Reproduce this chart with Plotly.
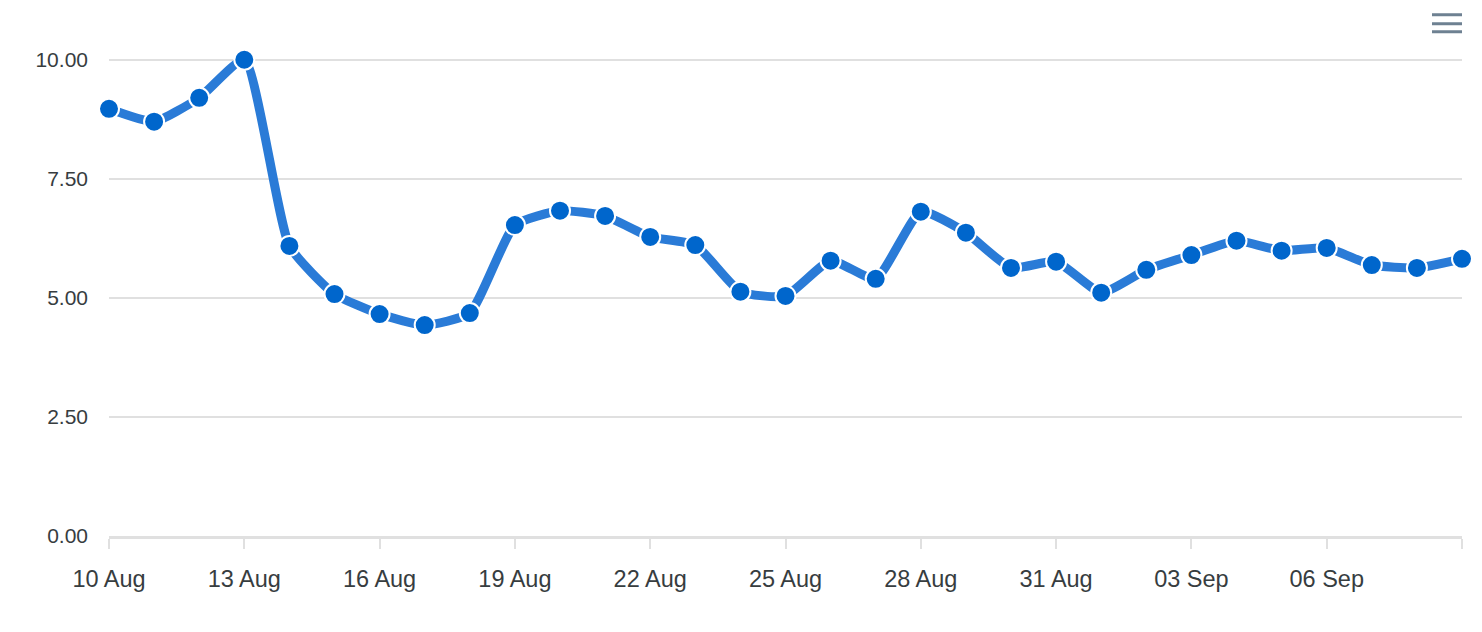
import plotly.graph_objects as go

# daily values, 10 Aug .. 09 Sep
dates = [
    "2023-08-10", "2023-08-11", "2023-08-12", "2023-08-13", "2023-08-14",
    "2023-08-15", "2023-08-16", "2023-08-17", "2023-08-18", "2023-08-19",
    "2023-08-20", "2023-08-21", "2023-08-22", "2023-08-23", "2023-08-24",
    "2023-08-25", "2023-08-26", "2023-08-27", "2023-08-28", "2023-08-29",
    "2023-08-30", "2023-08-31", "2023-09-01", "2023-09-02", "2023-09-03",
    "2023-09-04", "2023-09-05", "2023-09-06", "2023-09-07", "2023-09-08",
    "2023-09-09",
]
values = [
    8.97, 8.70, 9.20, 10.00, 6.09, 5.08, 4.66, 4.43, 4.68, 6.53,
    6.83, 6.72, 6.28, 6.11, 5.13, 5.04, 5.78, 5.40, 6.81, 6.37,
    5.63, 5.76, 5.11, 5.59, 5.90, 6.20, 5.99, 6.05, 5.69, 5.63,
    5.82,
]
x_ticks = dates[::3]
y_ticks = [0, 2.5, 5, 7.5, 10]

fig = go.Figure()
fig.add_trace(go.Scatter(
    x=dates,
    y=values,
    mode="lines+markers",
    line=dict(color="#2a7bd7", width=9, shape="spline", smoothing=0.5),
    marker=dict(color="#0066cc", size=20, line=dict(color="white", width=2)),
    cliponaxis=False,
    hoverinfo="x+y",
))

# page has an 8px body margin, so the figure is a bit smaller than the window
# y range goes a little past 10 so plotly still draws the 10.00 gridline
fig.update_layout(
    width=1466,
    height=616,
    margin=dict(l=101, r=12, t=47.24, b=88),
    paper_bgcolor="white",
    plot_bgcolor="white",
    showlegend=False,
    font=dict(family="Liberation Sans, Arial, sans-serif", color="#373d3f"),
    xaxis=dict(
        type="date",
        range=[dates[0], dates[-1]],
        tickvals=x_ticks,
        tickformat="%d %b",
        tickfont=dict(size=23.5),
        showgrid=False,
        showline=True,
        linecolor="#e0e0e0",
        linewidth=3,
        ticks="outside",
        ticklen=10,
        tickwidth=1.5,
        tickcolor="#e0e0e0",
        ticklabelstandoff=10,
        zeroline=False,
    ),
    yaxis=dict(
        range=[0, 10.1],
        tickvals=y_ticks,
        tickformat=".2f",
        tickfont=dict(size=21),
        gridcolor="#e0e0e0",
        gridwidth=1.5,
        zeroline=False,
        ticks="",
        ticklabelstandoff=20,
    ),
)

# menu icon, top right (paper coords of the plot area)
plot_h = 616 - 47.24 - 88
for yy in [15, 24, 32]:
    fig.add_shape(type="line", xref="paper", yref="paper",
                  x0=(1432 - 109) / 1353, x1=(1462 - 109) / 1353,
                  y0=(536 - yy) / plot_h, y1=(536 - yy) / plot_h,
                  line=dict(color="#6e8192", width=3))

fig.write_html("out.html")
